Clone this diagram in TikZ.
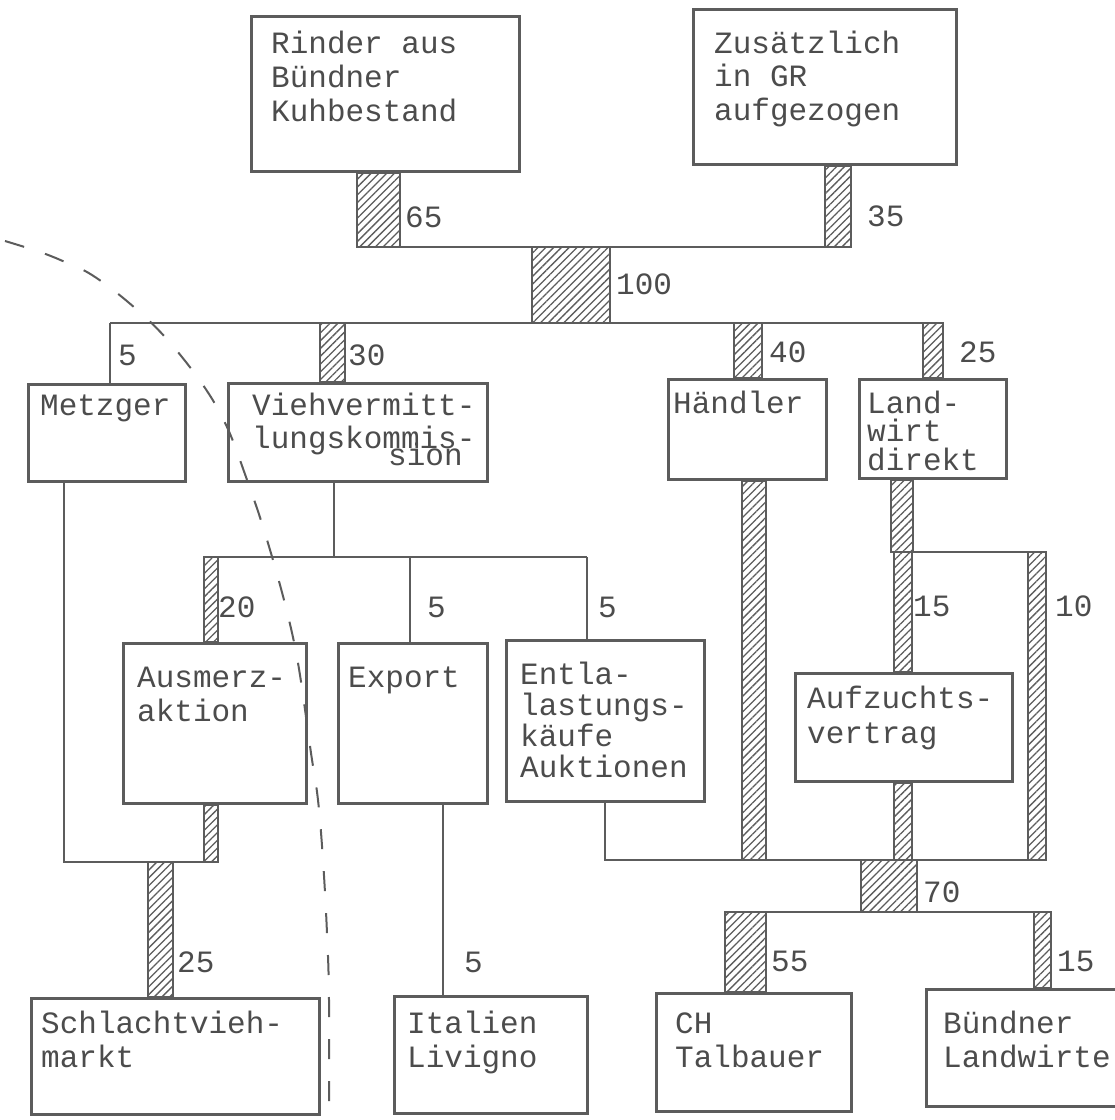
\documentclass[tikz,border=0pt]{standalone}
\usepackage{fontspec}
\setmonofont{Liberation Mono}
\usepackage{xcolor}
\usepackage{tikz}
\usetikzlibrary{patterns.meta}
\definecolor{ink}{gray}{0.36}
\definecolor{tinte}{gray}{0.30}
\tikzset{
    kasten/.style = {draw=ink, line width=3pt, anchor=north west, inner sep=0pt},
    schrift/.style = {font=\ttfamily\fontsize{31}{#1}\selectfont, text=tinte, anchor=base west, inner sep=0pt, align=left},
    schrift/.default = 34,
    zahl/.style = {font=\ttfamily\fontsize{31}{34}\selectfont, text=tinte, anchor=base west, inner sep=0pt},
}

\begin{document}
\begin{tikzpicture}[
	x=1pt,
	y=-1pt,
	line join=miter
]
\tikzset{
    verbindung/.style = {draw=ink, line width=2.6pt},
    balken/.style = {draw=ink, line width=2.4pt, preaction={fill=white},
        pattern={Lines[angle=45,distance=5.5pt,line width=1.3pt]}, pattern color=ink},
    grenze/.style = {draw=ink, line width=2pt, dash pattern=on 20pt off 22pt}
}
\useasboundingbox[fill=white] (0,0) rectangle (1115,1120);
% boxes
\node[kasten, minimum width=268, minimum height=155] (rind) at (250,15) {};
\node[kasten, minimum width=263, minimum height=155] (zus) at (692,8) {};
\node[kasten, minimum width=157, minimum height=97] (met) at (27,383) {};
\node[kasten, minimum width=259, minimum height=98] (vieh) at (227,382) {};
\node[kasten, minimum width=158, minimum height=100] (hand) at (667,378) {};
\node[kasten, minimum width=147, minimum height=99] (land) at (858,378) {};
\node[kasten, minimum width=183, minimum height=160] (ausm) at (122,642) {};
\node[kasten, minimum width=149, minimum height=160] (expo) at (337,642) {};
\node[kasten, minimum width=198, minimum height=161] (entl) at (505,639) {};
\node[kasten, minimum width=217, minimum height=108] (aufz) at (794,672) {};
\node[kasten, minimum width=288, minimum height=116] (schl) at (30,997) {};
\node[kasten, minimum width=193, minimum height=117] (ital) at (393,995) {};
\node[kasten, minimum width=195, minimum height=118] (chtb) at (655,992) {};
\node[kasten, minimum width=200, minimum height=117] (bund) at (925,988) {};
% texts, placed at the baseline of their last line
\node[schrift] (rindT) at (271,121) {Rinder aus\\Bündner\\Kuhbestand};
\node[schrift=33.5] (zusT) at (714,120) {Zusätzlich\\in GR\\aufgezogen};
\node[schrift] (metT) at (40,415) {Metzger};
\node[schrift=33] (viehT) at (252,465) {Viehvermitt-\\lungskommis-\\[-16pt]\hspace*{136pt}sion};
\node[schrift] (handT) at (673,413) {Händler};
\node[schrift=28.5] (landT) at (867,470) {Land-\\wirt\\direkt};
\node[schrift] (ausmT) at (137,721) {Ausmerz-\\aktion};
\node[schrift] (expoT) at (348,687) {Export};
\node[schrift=30.7] (entlT) at (520,777) {Entla-\\lastungs-\\käufe\\Auktionen};
\node[schrift=35] (aufzT) at (807,743) {Aufzuchts-\\vertrag};
\node[schrift] (schlT) at (41,1067) {Schlachtvieh-\\markt};
\node[schrift] (italT) at (407,1067) {Italien\\Livigno};
\node[schrift] (chtbT) at (675,1067) {CH\\Talbauer};
\node[schrift] (bundT) at (943,1067) {Bündner\\Landwirte};
% junctions
\coordinate (j1) at (357,247);
\coordinate (j2) at (110,323);
\coordinate (j3) at (204,557);
\coordinate (j4) at (605,860);
\coordinate (j5) at (913,552);
\coordinate (j6) at (725,912);
\coordinate (j7) at (64,862);
%
\draw[verbindung] (j1) -- (851,0 |- j1);
\draw[verbindung] (j2) -- (943,0 |- j2);
\draw[verbindung] (j2) -- (j2 |- met.north);
\draw[verbindung] (vieh.south -| 334,0) -- (334,0 |- j3);
\draw[verbindung] (j3) -- (587,0 |- j3);
\draw[verbindung] (410,0 |- j3) -- (410,0 |- expo.north);
\draw[verbindung] (587,0 |- j3) -- (587,0 |- entl.north);
\draw[verbindung] (met.south -| j7) -- (j7) -- (218,0 |- j7);
\draw[verbindung] (expo.south -| 443,0) -- (443,0 |- ital.north);
\draw[verbindung] (entl.south -| j4) -- (j4) -- (1046,0 |- j4);
\draw[verbindung] (j5) -- (1046,0 |- j5);
\draw[verbindung] (j6) -- (1051,0 |- j6);
% flows
\draw[balken] (357,0 |- rind.south) rectangle (400,0 |- j1);
\draw[balken] (825,0 |- zus.south) rectangle (851,0 |- j1);
\draw[balken] (532,0 |- j1) rectangle (610,0 |- j2);
\draw[balken] (320,0 |- j2) rectangle (345,0 |- vieh.north);
\draw[balken] (734,0 |- j2) rectangle (762,0 |- hand.north);
\draw[balken] (923,0 |- j2) rectangle (943,0 |- land.north);
\draw[balken] (204,0 |- j3) rectangle (218,0 |- ausm.north);
\draw[balken] (204,0 |- ausm.south) rectangle (218,0 |- j7);
\draw[balken] (148,0 |- j7) rectangle (173,0 |- schl.north);
\draw[balken] (742,0 |- hand.south) rectangle (766,0 |- j4);
\draw[balken] (891,0 |- land.south) rectangle (913,0 |- j5);
\draw[balken] (894,0 |- j5) rectangle (912,0 |- aufz.north);
\draw[balken] (894,0 |- aufz.south) rectangle (912,0 |- j4);
\draw[balken] (1028,0 |- j5) rectangle (1046,0 |- j4);
\draw[balken] (861,0 |- j4) rectangle (917,0 |- j6);
\draw[balken] (725,0 |- j6) rectangle (766,0 |- chtb.north);
\draw[balken] (1034,0 |- j6) rectangle (1051,0 |- bund.north);
% numbers
\node[zahl] (z65) at (405,227) {65};
\node[zahl] (z35) at (867,226) {35};
\node[zahl] (z100) at (616,294) {100};
\node[zahl] (z5m) at (118,365) {5};
\node[zahl] (z30) at (348,365) {30};
\node[zahl] (z40) at (769,362) {40};
\node[zahl] (z25l) at (959,362) {25};
\node[zahl] (z20) at (218,617) {20};
\node[zahl] (z5e) at (427,617) {5};
\node[zahl] (z5k) at (598,617) {5};
\node[zahl] (z15a) at (913,616) {15};
\node[zahl] (z10) at (1055,616) {10};
\node[zahl] (z25s) at (177,972) {25};
\node[zahl] (z5i) at (464,972) {5};
\node[zahl] (z70) at (923,902) {70};
\node[zahl] (z55) at (771,971) {55};
\node[zahl] (z15b) at (1057,971) {15};
% dashed border
\draw[grenze] plot[smooth, tension=0.6] coordinates {(5,241) (40,252) (65,262) (92,275)
    (128,302) (165,337) (203,385) (227,427) (246,477) (264,530) (284,600) (298,663)
    (311,753) (318,800) (323,860) (327,933) (329,1000) (329,1125)};
\end{tikzpicture}
\end{document}
